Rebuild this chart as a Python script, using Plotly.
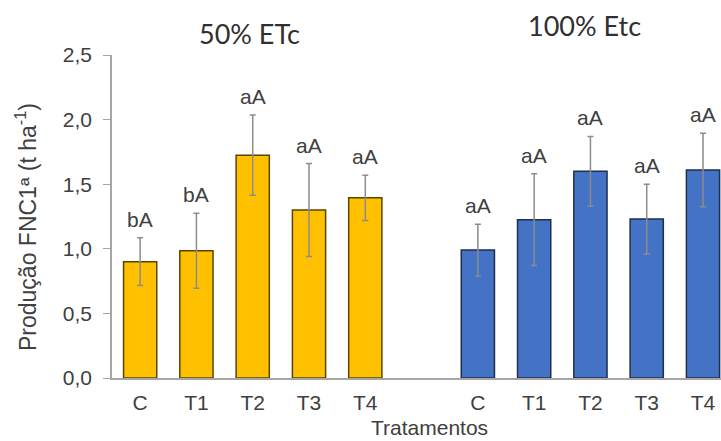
import plotly.graph_objects as go

categories = ["C", "T1", "T2", "T3", "T4"]
etc50_values = [0.90, 0.985, 1.725, 1.30, 1.395]
etc50_errors = [0.185, 0.29, 0.31, 0.36, 0.175]
etc50_letters = ["bA", "bA", "aA", "aA", "aA"]
etc100_values = [0.99, 1.225, 1.60, 1.23, 1.61]
etc100_errors = [0.20, 0.355, 0.27, 0.27, 0.285]
etc100_letters = ["aA", "aA", "aA", "aA", "aA"]
y_ticks = [0.0, 0.5, 1.0, 1.5, 2.0, 2.5]
y_ticklabels = ["0,0", "0,5", "1,0", "1,5", "2,0", "2,5"]

pos50 = list(range(len(categories)))
pos100 = [p + len(categories) + 1 for p in pos50]

FONT = "Liberation Sans, Arial, sans-serif"

fig = go.Figure()
err_style = dict(type="data", color="#8c8c8c", thickness=1.5, width=3)
fig.add_trace(go.Bar(
    x=pos50, y=etc50_values, width=0.59,
    marker=dict(color="#FFC000", line=dict(color="#5a4500", width=1.5)),
    error_y=dict(array=etc50_errors, **err_style), showlegend=False))
fig.add_trace(go.Bar(
    x=pos100, y=etc100_values, width=0.59,
    marker=dict(color="#4472C4", line=dict(color="#1f2f4f", width=1.5)),
    error_y=dict(array=etc100_errors, **err_style), showlegend=False))

ann = []
for xs, vals, errs, labs in [(pos50, etc50_values, etc50_errors, etc50_letters),
                             (pos100, etc100_values, etc100_errors, etc100_letters)]:
    for x, v, e, l in zip(xs, vals, errs, labs):
        ann.append(dict(x=x, y=v + e, text=l, showarrow=False, yanchor="bottom",
                        yshift=5, font=dict(family=FONT, size=21, color="#404040")))

PW, PH = 609, 323
ann.append(dict(xref="paper", yref="paper", x=(249 - 112) / PW, y=(441 - 33 - 63) / PH,
                text="50% ETc", showarrow=False, xanchor="center", yanchor="middle",
                font=dict(family="Lato", size=27, color="#303030")))
ann.append(dict(xref="paper", yref="paper", x=(584 - 112) / PW, y=(441 - 25 - 63) / PH,
                text="100% Etc", showarrow=False, xanchor="center", yanchor="middle",
                font=dict(family="Lato", size=27, color="#303030")))
ann.append(dict(xref="paper", yref="paper", x=(429 - 112) / PW, y=-(427 - 378) / PH,
                text="Tratamentos", showarrow=False, xanchor="center", yanchor="middle",
                font=dict(family=FONT, size=21, color="#404040")))
ann.append(dict(xref="paper", yref="paper", x=(26 - 112) / PW, y=(441 - 63 - 227) / PH,
                text="Produção FNC1ª (t ha<sup>-1</sup>)", textangle=-90,
                showarrow=False, xanchor="center", yanchor="middle",
                font=dict(family=FONT, size=23, color="#404040")))

fig.update_layout(
    width=721, height=441,
    margin=dict(l=112, r=0, t=55, b=63),
    plot_bgcolor="white", paper_bgcolor="white",
    annotations=ann,
    xaxis=dict(range=[-0.5, (721 - 140) / 56.3], tickvals=pos50 + pos100,
               ticktext=categories + categories, showline=True, linecolor="#a6a6a6",
               linewidth=1.5, ticks="", showgrid=False, zeroline=False,
               ticklabelstandoff=5,
               tickfont=dict(family=FONT, size=21, color="#404040")),
    yaxis=dict(range=[0, 2.5], tickvals=y_ticks, ticktext=y_ticklabels,
               showline=True, linecolor="#a6a6a6", linewidth=1.5, ticks="outside",
               ticklen=7, tickcolor="#a6a6a6", showgrid=False, zeroline=False,
               ticklabelstandoff=7,
               tickfont=dict(family=FONT, size=21, color="#404040")),
)

fig.write_html("out.html", config={"displayModeBar": False},
               post_script="document.body.style.margin='0';document.body.style.overflow='hidden';")
